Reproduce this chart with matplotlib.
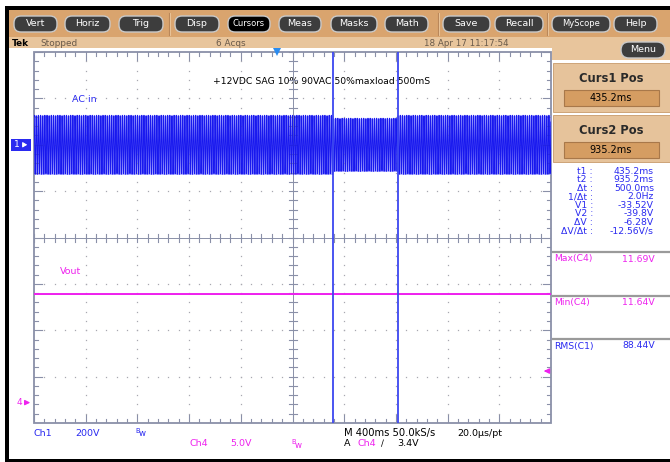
import numpy as np
import matplotlib
matplotlib.use("Agg")
import matplotlib.pyplot as plt
from matplotlib.patches import Rectangle, FancyBboxPatch
from matplotlib import transforms

plt.rcParams['font.family'] = ['DejaVu Sans']

# ---- acquisition settings ----
time_per_div_ms = 400.0
trig_pos_div = 4.70            # trigger point, divisions from the left edge
ch1_volts_per_div = 200.0
ch1_offset_div = 2.0
ch4_volts_per_div = 5.0
ch4_offset_div = -3.56
trig_level_v = 3.4

# ---- AC input (Ch1) ----
ac_rms_nominal = 90.0          # VAC
line_freq_hz = 60.0
sag_depth = 0.10               # 10 % sag
sag_start_ms = 435.2
sag_end_ms = 935.2

# ---- 12 V output (Ch4) ----
vout_max = 11.69
vout_min = 11.64

# ---- cursors & readouts ----
cursor_ms = [435.2, 935.2]
readout_labels = ["t1 :", "t2 :", "\u0394t :", "1/\u0394t :", "V1 :", "V2 :", "\u0394V :", "\u0394V/\u0394t :"]
readout_values = ["435.2ms", "935.2ms", "500.0ms", "2.0Hz", "-33.52V", "-39.8V", "-6.28V", "-12.56V/s"]
meas_labels = ["Max(C4)", "Min(C4)", "RMS(C1)"]
meas_values = ["11.69V", "11.64V", "88.44V"]
buttons = ["Vert", "Horiz", "Trig", "Disp", "Cursors", "Meas", "Masks", "Math", "Save", "Recall", "MyScope", "Help"]
button_x = [(14, 57), (65, 110), (119, 163), (175, 219), (228, 270), (279, 321),
            (331, 377), (385, 428), (443, 490), (495, 543), (552, 610), (614, 657)]

BLUE = "#2a2af0"
TRACE_BLUE = "#1010ee"
MAG = "#ee22ee"
GRID = "#8a90a8"
TAN = "#d9a46e"
TAN_LIGHT = "#e8c59c"
FS = 6.8

W, H = 670, 462
fig = plt.figure(figsize=(W / 100, H / 100), dpi=100)
fig.patch.set_facecolor("white")

# pixel-space layer for the instrument chrome
ax0 = fig.add_axes([0, 0, 1, 1])
ax0.set_xlim(0, W)
ax0.set_ylim(H, 0)
ax0.axis("off")

def rect(x0, y0, x1, y1, fc, ec="none", lw=0, z=1):
    ax0.add_patch(Rectangle((x0, y0), x1 - x0, y1 - y0, facecolor=fc, edgecolor=ec, lw=lw, zorder=z))

def txt(x, y, s, color="black", size=FS, ha="left", weight="normal", z=5):
    ax0.text(x, y, s, color=color, fontsize=size, ha=ha, va="center", fontweight=weight, zorder=z)

# frame
rect(5, 6, W, 10, "black")
rect(5, 6, 9, H, "black")
rect(5, 459, W, H, "black")
rect(9, 10, W, 37, TAN)
rect(9, 37, W, 48, TAN_LIGHT)
rect(552, 37, W, 60, TAN_LIGHT)
for sx in (169, 438, 547):
    ax0.plot([sx, sx], [13, 35], color="#b9875a", lw=0.8, zorder=2)
    ax0.plot([sx + 1, sx + 1], [13, 35], color="#ecc9a0", lw=0.6, zorder=2)

# toolbar buttons
for name, (bx0, bx1) in zip(buttons, button_x):
    fc = "black" if name == "Cursors" else "#3d3d3d"
    ax0.add_patch(FancyBboxPatch((bx0, 16), bx1 - bx0, 16,
                                 boxstyle="round,pad=0,rounding_size=7",
                                 facecolor=fc, edgecolor="#c9c9c9", lw=1.0, zorder=3))
    size = 6.0 if name in ("Cursors", "MyScope") else 6.8
    txt((bx0 + bx1) / 2, 24, name, color="white", size=size, ha="center")

# status line
txt(12, 43, "Tek", size=6.4, weight="bold")
txt(40, 43, "Stopped", color="#6a5a4a", size=6.4)
txt(216, 43, "6 Acqs", color="#6a5a4a", size=6.4)
txt(424, 43, "18 Apr 17 11:17:54", color="#6a5a4a", size=6.3)

# menu button
ax0.add_patch(FancyBboxPatch((621, 42), 44, 16, boxstyle="round,pad=0,rounding_size=8",
                             facecolor="#3d3d3d", edgecolor="#c9c9c9", lw=1.0, zorder=3))
txt(643, 50, "Menu", color="white", size=6.8, ha="center")

# cursor position panels
for (py0, py1), title, val in (((63, 112), "Curs1 Pos", "435.2ms"), ((115, 162), "Curs2 Pos", "935.2ms")):
    rect(553, py0, W, py1, "#e6c39b", ec="#c89a6a", lw=0.6, z=2)
    txt(611, py0 + 15, title, size=8.3, ha="center", weight="bold", color="#2a2a2a")
    rect(564, py0 + 27, 659, py0 + 43, "#d59d62", ec="#a8784a", lw=0.8, z=3)
    txt(611, py0 + 35, val, size=7.0, ha="center")

# cursor readouts
for i, (lab, val) in enumerate(zip(readout_labels, readout_values)):
    yy = 171 + i * 8.6
    txt(593, yy, lab, color=BLUE, size=6.7, ha="right")
    txt(654, yy, val, color=BLUE, size=6.7, ha="right")

# measurement boxes
for i, (lab, val) in enumerate(zip(meas_labels, meas_values)):
    ly = 252 + i * 43.5
    ax0.plot([553, W], [ly, ly], color="#9a9a9a", lw=1.6, zorder=2)
    col = BLUE if lab.startswith("RMS") else MAG
    txt(554, ly + 7, lab, color=col, size=6.7)
    txt(655, ly + 7, val, color=col, size=6.7, ha="right")

# bottom settings readout
txt(34, 433, "Ch1", color=BLUE)
txt(75, 433, "200V", color=BLUE)
txt(135, 431, "B", color=BLUE, size=4.8)
txt(139, 434, "w", color=BLUE, size=6.2)
txt(189, 444, "Ch4", color=MAG)
txt(230, 444, "5.0V", color=MAG)
txt(291, 442, "B", color=MAG, size=4.8)
txt(295, 445, "w", color=MAG, size=6.2)
txt(344, 433, "M 400ms 50.0kS/s", size=7.2)
txt(457, 433, "20.0\u00b5s/pt")
txt(344, 444, "A")
txt(357, 444, "Ch4", color=MAG)
txt(381, 444, "\u2215", size=6.2)
txt(397, 444, "3.4V")

# ---- scope graticule ----
left, right, top, bottom = 34, 551, 52, 423
ax = fig.add_axes([left / W, (H - bottom) / H, (right - left) / W, (bottom - top) / H])
t_left = -trig_pos_div * time_per_div_ms
t_right = t_left + 10 * time_per_div_ms
ax.set_xlim(t_left, t_right)
ax.set_ylim(-4, 4)
ax.axis("off")

px_t = (t_right - t_left) / (right - left)   # ms per pixel
px_y = 8.0 / (bottom - top)                  # div per pixel
t_major = t_left + np.arange(11) * time_per_div_ms
y_major = np.arange(-4, 5)
t_minor = t_left + np.arange(51) * time_per_div_ms / 5
y_minor = np.linspace(-4, 4, 41)
t_center = t_major[5]

# dotted grid
for tm in t_major[1:-1]:
    if tm == t_center:
        continue
    ax.plot(np.full_like(y_minor[1:-1], tm), y_minor[1:-1], ls="none", marker="s",
            ms=0.9, color="#a8a8b0", mew=0)
for ym in y_major[1:-1]:
    if ym == 0:
        continue
    ax.plot(t_minor[1:-1], np.full_like(t_minor[1:-1], ym), ls="none", marker="s",
            ms=0.9, color="#a8a8b0", mew=0)

# centre cross with tick marks
ax.plot([t_left, t_right], [0, 0], color=GRID, lw=0.7)
ax.plot([t_center, t_center], [-4, 4], color=GRID, lw=0.7)
for i, tm in enumerate(t_minor):
    h = 4 * px_y
    ax.plot([tm, tm], [-h, h], color=GRID, lw=0.8)
    ax.plot([tm, tm], [4, 4 - (8 if i % 5 == 0 else 4) * px_y], color=GRID, lw=0.8)
    ax.plot([tm, tm], [-4, -4 + (8 if i % 5 == 0 else 4) * px_y], color=GRID, lw=0.8)
for j, ym in enumerate(y_minor):
    w = 4 * px_t
    ax.plot([t_center - w, t_center + w], [ym, ym], color=GRID, lw=0.8)
    ax.plot([t_left, t_left + (8 if j % 5 == 0 else 4) * px_t], [ym, ym], color=GRID, lw=0.8)
    ax.plot([t_right, t_right - (8 if j % 5 == 0 else 4) * px_t], [ym, ym], color=GRID, lw=0.8)
ax.add_patch(Rectangle((t_left, -4), t_right - t_left, 8, fill=False, edgecolor=GRID, lw=1.3, clip_on=False))

# Ch1: AC input with a 10 % sag between the cursors
t = np.arange(t_left, t_right, 1.0)
vpk = ac_rms_nominal * np.sqrt(2) * np.where((t >= sag_start_ms) & (t < sag_end_ms), 1 - sag_depth, 1.0)
v_ac = vpk * np.sin(2 * np.pi * line_freq_hz * t / 1000.0)
ax.fill_between(t, -vpk / ch1_volts_per_div + ch1_offset_div, vpk / ch1_volts_per_div + ch1_offset_div,
                color="#8c8cff", lw=0, alpha=0.75)
ax.plot(t, v_ac / ch1_volts_per_div + ch1_offset_div, color=TRACE_BLUE, lw=0.7, alpha=0.95)

# Ch4: regulated output
vout = (vout_max + vout_min) / 2
ax.fill_between([t_left, t_right], vout_min / ch4_volts_per_div + ch4_offset_div,
                vout_max / ch4_volts_per_div + ch4_offset_div, color=MAG, lw=0)
ax.plot([t_left, t_right], [vout / ch4_volts_per_div + ch4_offset_div] * 2, color=MAG, lw=1.4)

# cursors
for c in cursor_ms:
    ax.plot([c, c], [-4, 4], color="#3c46f0", lw=1.3)

# trigger position marker
ax.plot([0], [4], marker="v", color="#2a8cf0", ms=5.5, clip_on=False, mew=0)

# trigger level marker
trig_y = trig_level_v / ch4_volts_per_div + ch4_offset_div
ax.annotate("", xy=(t_right - 10 * px_t, trig_y), xytext=(t_right - 1.5 * px_t, trig_y),
            arrowprops=dict(arrowstyle="-|>,head_width=0.15,head_length=0.3", color=MAG, lw=1.0))

# channel ground markers, left of the graticule
blend = transforms.blended_transform_factory(ax0.transData, ax.transData)
ax0.add_patch(Rectangle((11, ch1_offset_div - 6 * px_y), 20, 12 * px_y, transform=blend,
                        facecolor=BLUE, edgecolor="none", zorder=4, clip_on=False))
ax0.text(17, ch1_offset_div, "1", transform=blend, color="white", fontsize=6.5,
         ha="center", va="center", zorder=5)
ax0.annotate("", xy=(30, ch1_offset_div), xytext=(22, ch1_offset_div), xycoords=blend,
             textcoords=blend, arrowprops=dict(arrowstyle="-|>,head_width=0.15,head_length=0.25",
                                               color="white", lw=0.8), zorder=6)
ax0.text(19, ch4_offset_div, "4", transform=blend, color=MAG, fontsize=6.5,
         ha="center", va="center", zorder=5)
ax0.annotate("", xy=(33, ch4_offset_div), xytext=(24, ch4_offset_div), xycoords=blend,
             textcoords=blend, arrowprops=dict(arrowstyle="-|>,head_width=0.15,head_length=0.3",
                                               color=MAG, lw=0.9), zorder=6)

# on-screen labels
txt(213, 82, "+12VDC SAG 10% 90VAC 50%maxload 500mS", size=6.7)
txt(72, 99, "AC in", color=BLUE)
txt(60, 271, "Vout", color=MAG)

fig.savefig("out.png", dpi=100)
